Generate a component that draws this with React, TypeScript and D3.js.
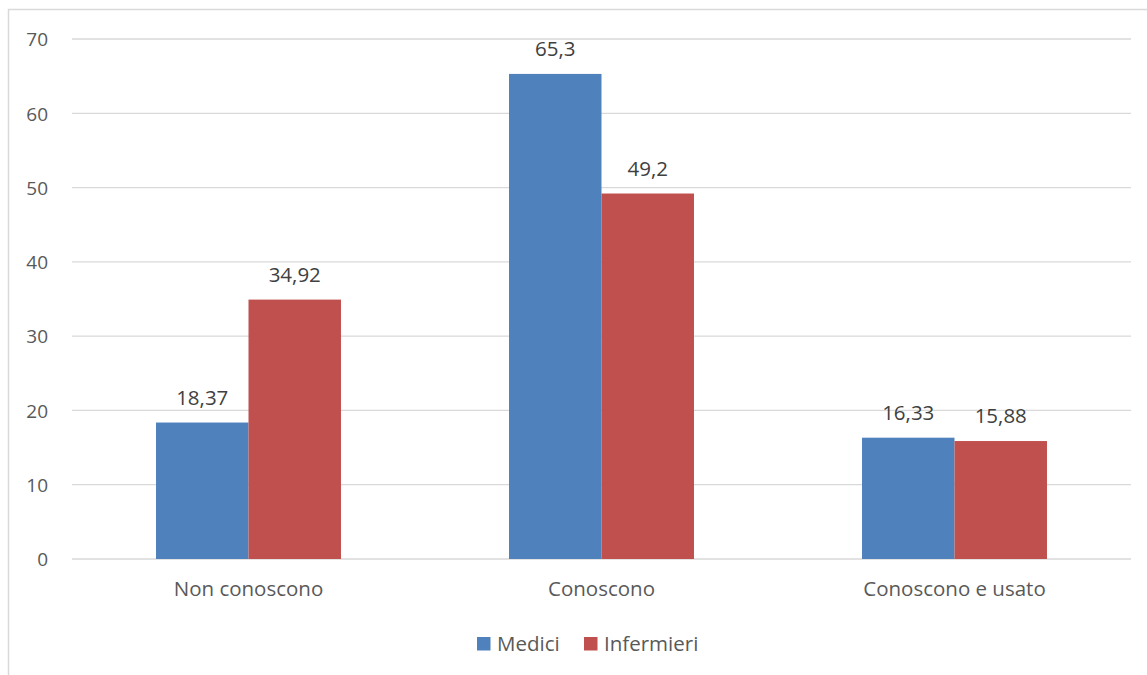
import React from "react";
import * as d3 from "d3";

const categories = ["Non conoscono", "Conoscono", "Conoscono e usato"];
const seriesNames = ["Medici", "Infermieri"];
const medici = [18.37, 65.3, 16.33];
const infermieri = [34.92, 49.2, 15.88];
const labelsMedici = ["18,37", "65,3", "16,33"];
const labelsInfermieri = ["34,92", "49,2", "15,88"];
const yTicks = [0, 10, 20, 30, 40, 50, 60, 70];
const colors = ["#4f81bd", "#c0504d"];

export default function App() {
  const W = 1147, H = 675;
  const left = 72, right = 1131, top = 39, bottom = 559;
  const x = d3.scaleBand<string>().domain(categories).range([left, right]).paddingInner(0.476).paddingOuter(0.238);
  const xs = d3.scaleBand<string>().domain(seriesNames).range([0, x.bandwidth()]);
  const y = d3.scaleLinear().domain([0, 70]).range([bottom, top]);
  const font = "'Open Sans', sans-serif";
  const values = [medici, infermieri];
  const labels = [labelsMedici, labelsInfermieri];
  const fsTick = 19;
  const fs = 20.5;
  return (
    <svg width={W} height={H} style={{ position: "absolute", left: 0, top: 0 }} fontFamily={font}>
      <rect x={0} y={0} width={W} height={H} fill="#fff" />
      <path d="M8.5,675 V9.5 H1147" fill="none" stroke="#d9d9d9" strokeWidth={1.5} />
      {yTicks.map((t) => (
        <g key={t}>
          <line x1={left} x2={right} y1={y(t)} y2={y(t)} stroke="#d9d9d9" strokeWidth={1.3} />
          <text x={48} y={y(t)} dy="0.38em" textAnchor="end" fontSize={fsTick} fill="#595959">{t}</text>
        </g>
      ))}
      {categories.map((c, i) => (
        <g key={c}>
          {seriesNames.map((s, j) => {
            const v = values[j][i];
            const bx = (x(c) as number) + (xs(s) as number);
            return (
              <g key={s}>
                <rect x={bx} y={y(v)} width={xs.bandwidth()} height={y(0) - y(v)} fill={colors[j]} />
                <text x={bx + xs.bandwidth() / 2} y={y(v) - 18} textAnchor="middle" fontSize={fs} fill="#404040">{labels[j][i]}</text>
              </g>
            );
          })}
          <text x={(x(c) as number) + x.bandwidth() / 2} y={596} textAnchor="middle" fontSize={fs} fill="#595959">{c}</text>
        </g>
      ))}
      <g>
        <rect x={477} y={637} width={13.5} height={13.5} fill={colors[0]} />
        <text x={497} y={651} fontSize={fs} fill="#595959">{seriesNames[0]}</text>
        <rect x={584} y={637} width={13.5} height={13.5} fill={colors[1]} />
        <text x={604} y={651} fontSize={fs} fill="#595959">{seriesNames[1]}</text>
      </g>
    </svg>
  );
}
